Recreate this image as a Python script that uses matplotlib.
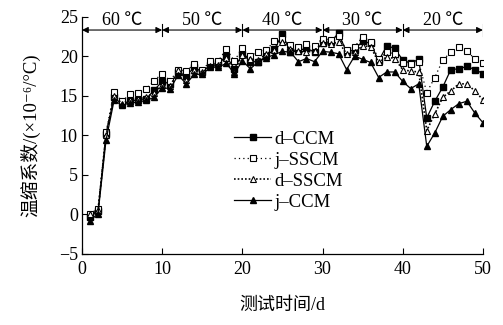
import matplotlib
matplotlib.use("Agg")
import matplotlib.pyplot as plt

plt.rcParams["font.family"] = ["Liberation Serif", "Noto Sans CJK SC", "DejaVu Sans"]
plt.rcParams["axes.unicode_minus"] = True

days = list(range(1, 51))

d_ccm = [-0.3, 0.4, 10.2, 14.8, 13.9, 14.3, 14.5, 14.6, 15.7, 16.8,
         16.5, 18.0, 17.5, 18.6, 18.0, 18.9, 19.1, 20.0, 18.4, 20.3,
         19.3, 19.3, 20.0, 20.9, 22.8, 20.5, 20.7, 21.0, 20.5, 21.7,
         21.8, 22.9, 20.5, 20.8, 21.9, 21.6, 19.4, 21.3, 21.0, 19.5,
         19.1, 19.6, 12.2, 14.3, 16.1, 18.3, 18.4, 18.7, 18.3, 17.8]

j_sscm = [0.1, 0.7, 10.4, 15.5, 14.3, 15.2, 15.3, 15.9, 16.9, 17.8,
          16.9, 18.3, 18.1, 19.0, 18.2, 19.4, 19.4, 20.9, 19.4, 21.0,
          20.0, 20.5, 20.8, 21.9, 22.2, 21.4, 21.2, 21.5, 21.3, 22.2,
          22.1, 22.5, 20.8, 21.2, 22.4, 21.8, 19.6, 20.5, 20.3, 19.1,
          19.0, 19.2, 15.4, 17.3, 19.5, 20.5, 21.1, 20.7, 19.6, 19.1]

d_sscm = [0.0, 0.5, 10.0, 15.0, 14.0, 14.5, 14.6, 14.8, 15.4, 16.3,
          16.2, 18.2, 17.0, 18.2, 18.0, 18.7, 18.9, 19.8, 18.0, 20.2,
          19.7, 19.5, 20.3, 20.8, 21.8, 20.9, 20.6, 20.5, 20.7, 21.7,
          21.5, 21.8, 20.3, 20.5, 21.3, 21.2, 19.2, 19.9, 19.7, 18.3,
          18.1, 18.0, 10.6, 12.7, 14.8, 15.6, 16.5, 16.5, 15.6, 14.5]

j_ccm = [-0.8, 0.1, 9.4, 14.4, 13.8, 14.1, 14.2, 14.4, 14.8, 16.0,
         15.9, 17.6, 16.5, 17.7, 17.7, 18.6, 18.6, 19.1, 17.8, 19.4,
         18.4, 19.3, 19.8, 20.2, 20.6, 20.5, 19.3, 19.7, 19.3, 20.6,
         20.5, 20.3, 18.3, 20.0, 19.6, 19.2, 17.3, 18.0, 18.0, 16.8,
         15.9, 16.5, 8.6, 10.3, 12.4, 13.25, 14.0, 14.3, 12.8, 11.6]

stage_edges = [0, 10, 20, 30, 40, 50]
stage_labels = ["60 ℃", "50 ℃", "40 ℃", "30 ℃", "20 ℃"]

fig = plt.figure(figsize=(5.03, 3.25), dpi=100)
ax = fig.add_axes([0.163, 0.2185, 0.797, 0.7305])

ms = 4.2
lw = 0.9
ax.plot(days, d_ccm, "-", color="black", lw=lw, marker="s", ms=ms,
        mfc="black", mec="black", label="d–CCM")
ax.plot(days, j_sscm, color="black", lw=lw, ls=(0, (1, 2.5)), marker="s", ms=ms,
        mfc="white", mec="black", mew=0.8, label="j–SSCM")
ax.plot(days, d_sscm, color="black", lw=lw + 0.3, ls=(0, (1, 1.2)), marker="^", ms=ms + 0.5,
        mfc="white", mec="black", mew=0.8, label="d–SSCM")
ax.plot(days, j_ccm, "-", color="black", lw=lw, marker="^", ms=ms + 0.8,
        mfc="black", mec="black", label="j–CCM")

# temperature stages on top
arrow_y = 23.3
for i, lab in enumerate(stage_labels):
    x0, x1 = stage_edges[i], stage_edges[i + 1]
    ax.annotate("", xy=(x0, arrow_y), xytext=(x1, arrow_y),
                arrowprops=dict(arrowstyle="<|-|>", color="black", lw=0.8,
                                mutation_scale=9, shrinkA=0, shrinkB=0))
    ax.text((x0 + x1) / 2, 24.45, lab, ha="center", va="center", fontsize=13)
for x in stage_edges[1:]:
    ax.plot([x, x], [arrow_y - 0.7, arrow_y + 0.7], color="black", lw=0.8)

ax.set_xlim(0, 50)
ax.set_ylim(-5, 25)
ax.set_xticks([0, 10, 20, 30, 40, 50])
ax.set_yticks([-5, 0, 5, 10, 15, 20, 25])
ax.tick_params(direction="in", length=4, width=0.8, labelsize=13, pad=3)
ax.tick_params(axis="x", pad=5)
ax.spines["top"].set_visible(False)
ax.spines["right"].set_visible(False)
for s in ["left", "bottom"]:
    ax.spines[s].set_linewidth(0.9)

ax.set_xlabel("测试时间/d", fontsize=13, labelpad=14)
ax.set_ylabel("温缩系数/(×10⁻⁶/°C)", fontsize=13.5, labelpad=13)

leg = ax.legend(loc="upper left", bbox_to_anchor=(0.36, 0.55), frameon=False,
                fontsize=13.5, handlelength=2.0, handletextpad=0.15,
                labelspacing=0.2, borderaxespad=0)

fig.savefig("out.png", dpi=100)
